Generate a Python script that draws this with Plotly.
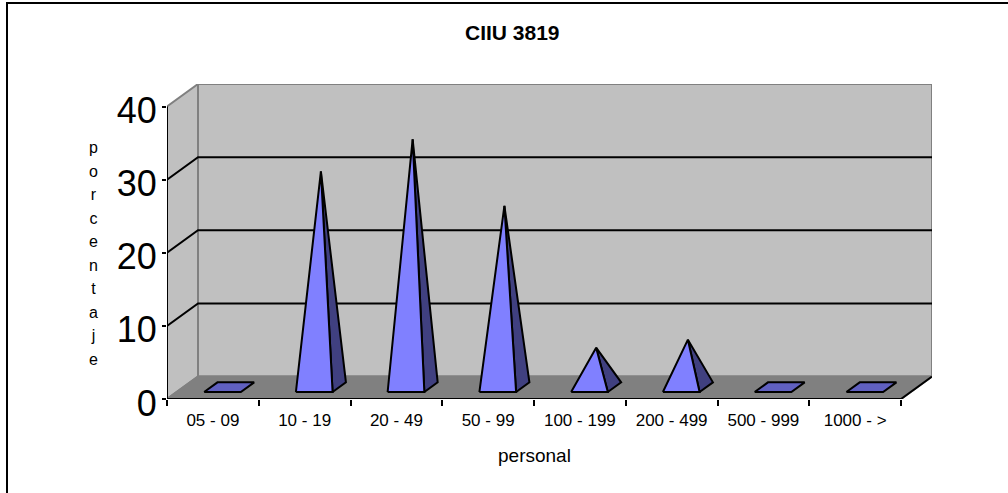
import plotly.graph_objects as go

CATEGORIES = ["05 - 09", "10 - 19", "20 - 49", "50 - 99", "100 - 199", "200 - 499", "500 - 999", "1000 - >"]
VALUES = [0, 29.5, 33.9, 24.8, 5.4, 6.5, 0, 0]
Y_TICKS = [0, 10, 20, 30, 40]
GRID_VALUES = [10, 20, 30]
TITLE = "CIIU 3819"
X_TITLE = "personal"
Y_TITLE = "porcentaje"

W, H = 1008, 493
LEFT, RIGHT, BOTTOM, TOP = 167, 901, 399, 106.5
DEPTH_X, DEPTH_Y = 31, 22.5
N = len(CATEGORIES)
YMAX = Y_TICKS[-1]
PX_X = (RIGHT - LEFT) / N
PX_Y = (BOTTOM - TOP) / YMAX
DX = DEPTH_X / PX_X
DY = DEPTH_Y / PX_Y

BLACK = "#000000"
GRAY = "#808080"
WALL = "#c0c0c0"
FRONT = "#8080ff"
SIDE = "#404080"
BASE = "#6060c0"
FONT = "Liberation Sans, Arial, sans-serif"

fig = go.Figure()


def poly(xs, ys, fill=None, line=BLACK, width=2):
    fig.add_trace(go.Scatter(
        x=xs, y=ys, mode="lines", cliponaxis=False, hoverinfo="skip", showlegend=False,
        fill="toself" if fill else None, fillcolor=fill,
        line=dict(color=line, width=width),
    ))


# walls and floor
poly([0, DX, DX, 0, 0], [0, DY, YMAX + DY, YMAX, 0], WALL, GRAY)
poly([DX, N + DX, N + DX, DX, DX], [DY, DY, YMAX + DY, YMAX + DY, DY], WALL, GRAY)
poly([0, N, N + DX, DX, 0], [0, 0, DY, DY, 0], GRAY, GRAY)
poly([N, N + DX], [0, DY], None, BLACK)

# gridlines
for g in GRID_VALUES:
    poly([0, DX, N + DX], [g, g + DY, g + DY])

# axis lines
poly([0, 0], [0, YMAX])
poly([0, N], [0, 0])

# pyramids
HALF = 0.2
FRONT_F, BACK_F = 0.31, 0.74
MID_F = (FRONT_F + BACK_F) / 2
for i, v in enumerate(VALUES):
    c = i + 0.5
    fl = c - HALF + FRONT_F * DX
    fr = c + HALF + FRONT_F * DX
    bl = c - HALF + BACK_F * DX
    br = c + HALF + BACK_F * DX
    yf = FRONT_F * DY
    yb = BACK_F * DY
    ax = c + MID_F * DX
    ay = MID_F * DY + v
    if v == 0:
        poly([fl, fr, br, bl, fl], [yf, yf, yb, yb, yf], BASE)
    else:
        poly([fr, br, ax, fr], [yf, yb, ay, yf], SIDE)
        poly([fl, fr, ax, fl], [yf, yf, ay, yf], FRONT)

# stacked vertical axis title, in its own pixel-scaled hidden subplot
fig.add_trace(go.Scatter(
    x=[93.5] * len(Y_TITLE),
    y=[H - (149 + k * 23.5) for k in range(len(Y_TITLE))],
    text=list(Y_TITLE), mode="text", textposition="middle center", cliponaxis=False,
    xaxis="x2", yaxis="y2",
    hoverinfo="skip", showlegend=False,
    textfont=dict(size=16, color=BLACK, family=FONT),
))

annotations = [
    dict(text="<b>" + TITLE + "</b>", x=512.5 / W, y=1 - 33 / H, xref="paper", yref="paper", showarrow=False,
         yanchor="middle", font=dict(size=21, color=BLACK, family=FONT)),
    dict(text=X_TITLE, x=534.5 / W, y=1 - 455 / H, xref="paper", yref="paper", showarrow=False,
         yanchor="middle", font=dict(size=19, color=BLACK, family=FONT)),
]

fig.update_layout(
    template="none",
    width=W, height=H, autosize=False,
    margin=dict(l=0, r=0, t=0, b=0, pad=0),
    paper_bgcolor="white", plot_bgcolor="rgba(0,0,0,0)",
    showlegend=False,
    annotations=annotations,
    xaxis=dict(
        domain=[LEFT / W, (RIGHT + DEPTH_X) / W], range=[0, N + DX], showgrid=False, zeroline=False,
        automargin=False, showline=False,
        tickmode="array", tickvals=[i + 0.5 for i in range(N)], ticktext=CATEGORIES, ticks="",
        ticklabelstandoff=9,
        tickfont=dict(size=17, color=BLACK, family=FONT),
        minor=dict(tickmode="array", tickvals=list(range(N + 1)), ticks="outside", ticklen=6,
                   tickwidth=2, tickcolor=BLACK, showgrid=False),
    ),
    yaxis=dict(
        domain=[1 - BOTTOM / H, 1 - (TOP - DEPTH_Y) / H], range=[0, YMAX + DY], showgrid=False, zeroline=False,
        automargin=False, showline=False,
        tickmode="array", tickvals=Y_TICKS, ticks="outside", ticklen=4, tickwidth=2, tickcolor=BLACK,
        ticklabelstandoff=-2, ticklabelshift=4,
        tickfont=dict(size=36, color=BLACK, family=FONT),
    ),
    xaxis2=dict(domain=[0, 1], range=[0, W], visible=False, anchor="y2", automargin=False),
    yaxis2=dict(domain=[0, 1], range=[0, H], visible=False, anchor="x2", automargin=False),
    shapes=[dict(type="rect", xref="paper", yref="paper", x0=7 / W, x1=1012 / W, y0=-6 / H, y1=1 - 3 / H,
                 line=dict(color=BLACK, width=2), layer="below")],
)

fig.write_html("out.html", config={"displayModeBar": False},
               post_script="document.body.style.margin='0';window.dispatchEvent(new Event('resize'));")
